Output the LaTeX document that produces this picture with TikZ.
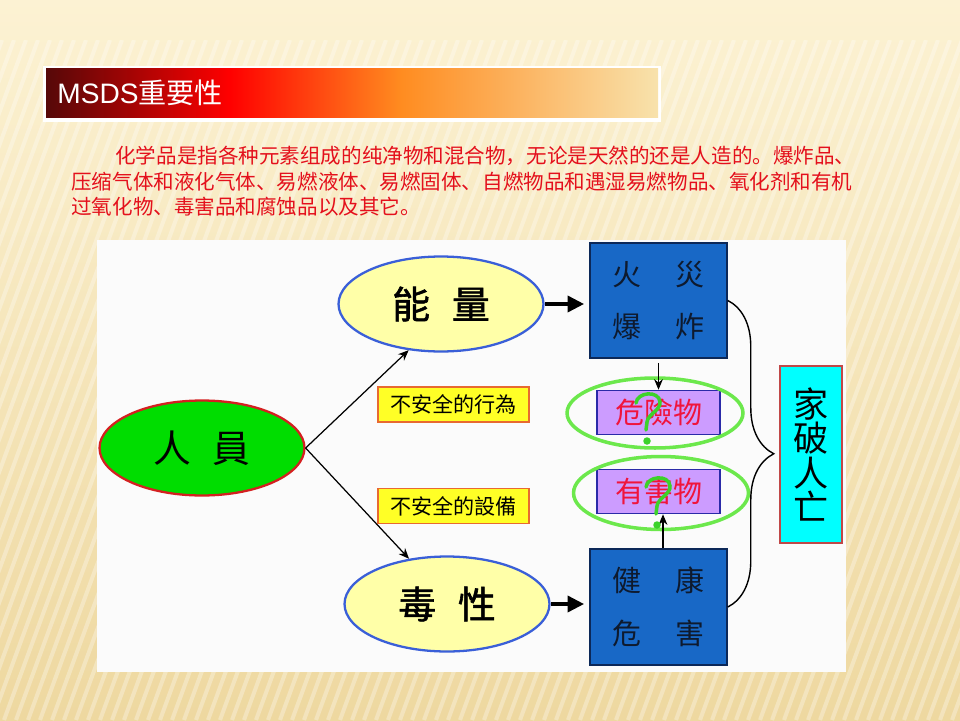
\documentclass[tikz,border=0pt]{standalone}
\usepackage{fontspec}
\setmainfont{Liberation Sans}
\newfontfamily\cjk{Noto Sans CJK SC}
\newfontfamily\cjkheavy[FakeBold=1.5]{Noto Sans CJK SC}
\usetikzlibrary{positioning,shapes.geometric,arrows.meta,decorations.pathreplacing}

\definecolor{bgtop}{HTML}{FCF2D3}
\definecolor{bgbottom}{HTML}{EED8A0}
\definecolor{barmaroon}{HTML}{560808}
\definecolor{barorange}{HTML}{FF8C20}
\definecolor{barlight}{HTML}{F8E2AC}
\definecolor{bodyred}{HTML}{E4101C}
\definecolor{panel}{HTML}{FBFBFB}
\definecolor{ovalgreen}{HTML}{00DD00}
\definecolor{ovalred}{HTML}{D42020}
\definecolor{ovalyellow}{HTML}{FFFFA8}
\definecolor{ovalblue}{HTML}{3A5FD8}
\definecolor{tagyellow}{HTML}{FFFF26}
\definecolor{tagedge}{HTML}{E86A30}
\definecolor{boxblue}{HTML}{1868C6}
\definecolor{boxedge}{HTML}{0C2858}
\definecolor{boxink}{HTML}{0E1A2E}
\definecolor{lilac}{HTML}{CC9CFF}
\definecolor{lilacedge}{HTML}{2A2AA8}
\definecolor{hazardred}{HTML}{F0143C}
\definecolor{ringgreen}{HTML}{6CE84C}
\definecolor{qgreen}{HTML}{3CD22A}
\definecolor{doomcyan}{HTML}{00FFFF}
\definecolor{doomedge}{HTML}{C04848}

\pgfdeclarehorizontalshading{titlebar}{100bp}{color(0bp)=(barmaroon); color(25bp)=(barmaroon); color(40bp)=(red); color(54bp)=(barorange); color(75bp)=(barlight); color(100bp)=(barlight)}

\begin{document}
\begin{tikzpicture}[x=0.02cm,y=-0.02cm,
    stripe/.style={white,opacity=0.3,line width=0.08cm},
    bodyline/.style={anchor=west,inner sep=0pt,text=bodyred,font=\cjk\fontsize{11.7}{14}\selectfont},
    oval/.style={ellipse,draw,line width=1.3pt,minimum width=4.1cm,minimum height=1.9cm,inner sep=0pt,font=\cjk\fontsize{21.5}{24}\selectfont},
    tag/.style={draw=tagedge,fill=tagyellow,line width=0.8pt,minimum width=3.02cm,minimum height=0.7cm,inner sep=0pt,font=\cjk\fontsize{12}{14}\selectfont},
    bluebox/.style={draw=boxedge,fill=boxblue,line width=0.9pt,minimum width=2.74cm,minimum height=2.3cm,align=center,text=boxink,font=\cjk\fontsize{16.5}{30}\selectfont},
    lilacbox/.style={draw=lilacedge,fill=lilac,line width=0.9pt,minimum width=2.46cm,minimum height=0.88cm,inner sep=0pt,text=hazardred,font=\cjk\fontsize{16.5}{20}\selectfont},
    ring/.style={ellipse,draw=ringgreen,line width=2pt,inner sep=0pt},
    thinarrow/.style={-{Stealth[length=6pt,width=5pt]},line width=0.7pt},
    bigarrow/.style={-{Triangle[length=9.5pt,width=9pt]},line width=2.6pt}]
  \useasboundingbox (0,0) rectangle (960,720);
  \shade[top color=bgtop,bottom color=bgbottom] (0,0) rectangle (960,720);
  % background stripes
  \begin{scope}
    \clip (0,40) rectangle (960,720);
    \foreach \s in {-260,-248,...,960}
      \draw[stripe] (\s,720) -- ++(250,-680);
  \end{scope}

  % title bar
  \fill[white] (43,66) rectangle (661,122);
  \shade[shading=titlebar] (46,68) rectangle (658,117);
  \node[anchor=west,inner sep=0pt,text=white,font=\fontsize{16}{18}\selectfont] (title) at (57,93) {MSDS{\cjk 重要性}};

  \node[bodyline] (line1) at (115,156) {化学品是指各种元素组成的纯净物和混合物，无论是天然的还是人造的。爆炸品、};
  \node[bodyline] (line2) at (71,182) {压缩气体和液化气体、易燃液体、易燃固体、自燃物品和遇湿易燃物品、氧化剂和有机};
  \node[bodyline] (line3) at (71,207) {过氧化物、毒害品和腐蚀品以及其它。};

  % diagram
  \fill[panel] (97,240) rectangle (846,672);
  \node[oval,draw=ovalred,fill=ovalgreen] (staff) at (202,448) {人\hspace{12.5pt}員};
  \node[oval,draw=ovalblue,fill=ovalyellow] (energy) at (441,304) {\cjkheavy 能\hspace{12.5pt}量};
  \node[oval,draw=ovalblue,fill=ovalyellow] (toxic) at (447,604) {\cjkheavy 毒\hspace{12.5pt}性};

  \draw[thinarrow] (staff.east) -- (energy.235);
  \draw[thinarrow] (staff.east) -- (toxic.130);

  \node[tag] (act) at (453.5,404.5) {不安全的行為};
  \node[tag] (gear) at (453.5,506) {不安全的設備};

  \node[bluebox] (fire) at (658.5,300.5) {火\hspace{19pt}災\\爆\hspace{19pt}炸};
  \node[bluebox,minimum height=2.32cm] (health) at (658.5,607) {健\hspace{19pt}康\\危\hspace{19pt}害};
  \node[lilacbox] (danger) at (658.5,412.5) {危險物};
  \node[lilacbox] (harm) at (658.5,491.5) {有害物};
  \node[ring,minimum width=3.52cm,minimum height=1.4cm] (ring1) at (655,413) {};
  \node[ring,minimum width=3.5cm,minimum height=1.46cm] (ring2) at (661,493) {};

  \node[draw=doomedge,fill=doomcyan,line width=0.9pt,minimum width=1.24cm,minimum height=3.54cm,align=center,font=\cjk\fontsize{20}{19.5}\selectfont] (doom) at (811,454.5) {家\\破\\人\\亡};

  \draw[bigarrow,shorten >=0.1cm] (energy.east) -- (fire.west |- energy.east);
  \draw[bigarrow,shorten >=0.1cm] (toxic.east) -- (health.west |- toxic.east);
  \draw[thinarrow,shorten <=0.08cm] (fire.south) -- (danger.north);
  \draw[thinarrow] ([xshift=0.09cm]health.north) -- ([xshift=0.09cm]harm.south);
  \draw[decorate,decoration={brace,amplitude=0.92cm},line width=0.8pt] (fire.east) -- (health.east);

  % question marks
  \foreach \qx/\qy in {636/403,646/487}{
    \draw[qgreen,line width=0.07cm,line cap=round] (\qx,\qy) .. controls ({\qx+1},{\qy-11}) and ({\qx+23},{\qy-13}) .. ({\qx+24},{\qy-1}) .. controls ({\qx+25},{\qy+7}) and ({\qx+12},{\qy+11}) .. ({\qx+11},{\qy+19}) -- ({\qx+10},{\qy+27});
    \fill[qgreen] ({\qx+11},{\qy+38}) circle (0.075cm);
  }
\end{tikzpicture}
\end{document}
